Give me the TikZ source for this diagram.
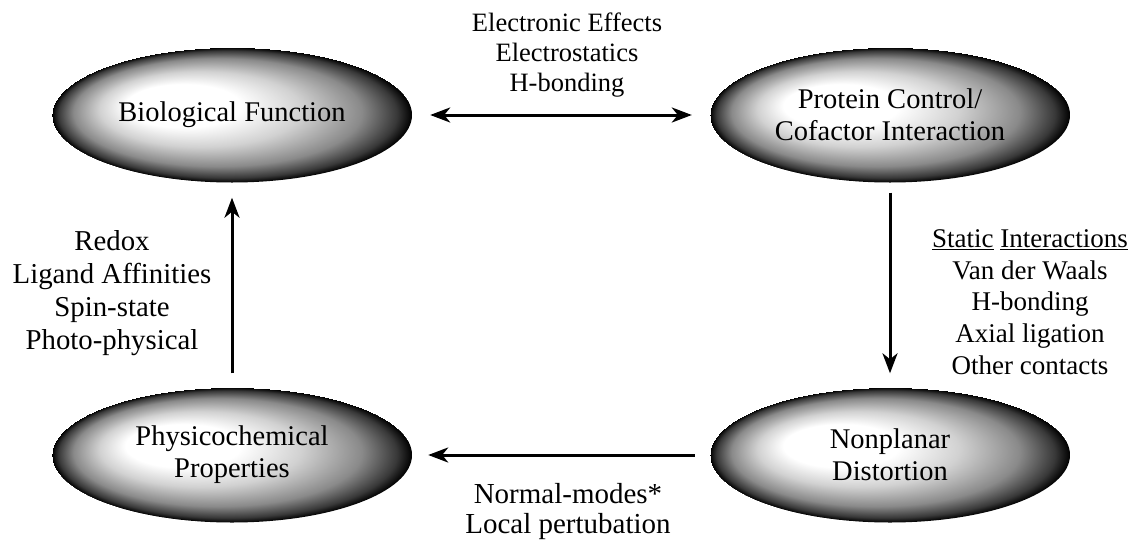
\documentclass[tikz,border=0pt]{standalone}
\usepackage{fontspec}
\setmainfont{Liberation Serif}
\usetikzlibrary{shapes.geometric,arrows.meta}
\pgfdeclareradialshading{eggshade}{\pgfpoint{-10bp}{5bp}}{color(0bp)=(white); color(8bp)=(white); color(14bp)=(black!18); color(20bp)=(black!46); color(23.5bp)=(black!78); color(25bp)=(black)}
\tikzset{
  egg/.style={ellipse, shading=eggshade, minimum width=360pt, minimum height=135pt, inner sep=0pt, align=center, font=\fontsize{28.5}{32}\selectfont},
  lbl/.style={align=center, inner sep=0pt},
  conn/.style={line width=3pt, -{Stealth[length=20pt,width=15pt,inset=6pt]}},
  bconn/.style={line width=3pt, {Stealth[length=20pt,width=15pt,inset=6pt]}-{Stealth[length=20pt,width=15pt,inset=6pt]}}
}
\begin{document}
\begin{tikzpicture}[x=1pt,y=-1pt]
\useasboundingbox (0,0) rectangle (1129,541);
\node[egg] (bf) at (232,115) {Biological Function};
\node[egg] (pc) at (890,115) {Protein Control/\\Cofactor Interaction};
\node[egg] (np) at (890,455) {Nonplanar\\Distortion};
\node[egg] (pp) at (232,455) {Physicochemical\\Properties};
\draw[bconn, shorten <=18pt, shorten >=18pt] (bf.east) -- (pc.west);
\draw[conn, shorten <=10pt, shorten >=14pt] (pc.south) -- (np.north);
\draw[conn, shorten <=15pt, shorten >=16pt] (np.west) -- (pp.east);
\draw[conn, shorten <=14pt, shorten >=15pt] (pp.north) -- (bf.south);
\node[lbl, font=\fontsize{26.5}{30}\selectfont] (t1) at (567,55) {Electronic Effects\\Electrostatics\\H-bonding};
\node[lbl, font=\fontsize{28.8}{33}\selectfont] (t2) at (112,293) {Redox\\Ligand Affinities\\Spin-state\\Photo-physical};
\node[lbl, font=\fontsize{27}{31.8}\selectfont] (t3) at (1030,302) {\underline{Static} \underline{Interactions}\\Van der Waals\\H-bonding\\Axial ligation\\Other contacts};
\node[lbl, font=\fontsize{29}{30}\selectfont] (t4) at (568,512) {Normal-modes*\\Local pertubation};
\end{tikzpicture}
\end{document}
